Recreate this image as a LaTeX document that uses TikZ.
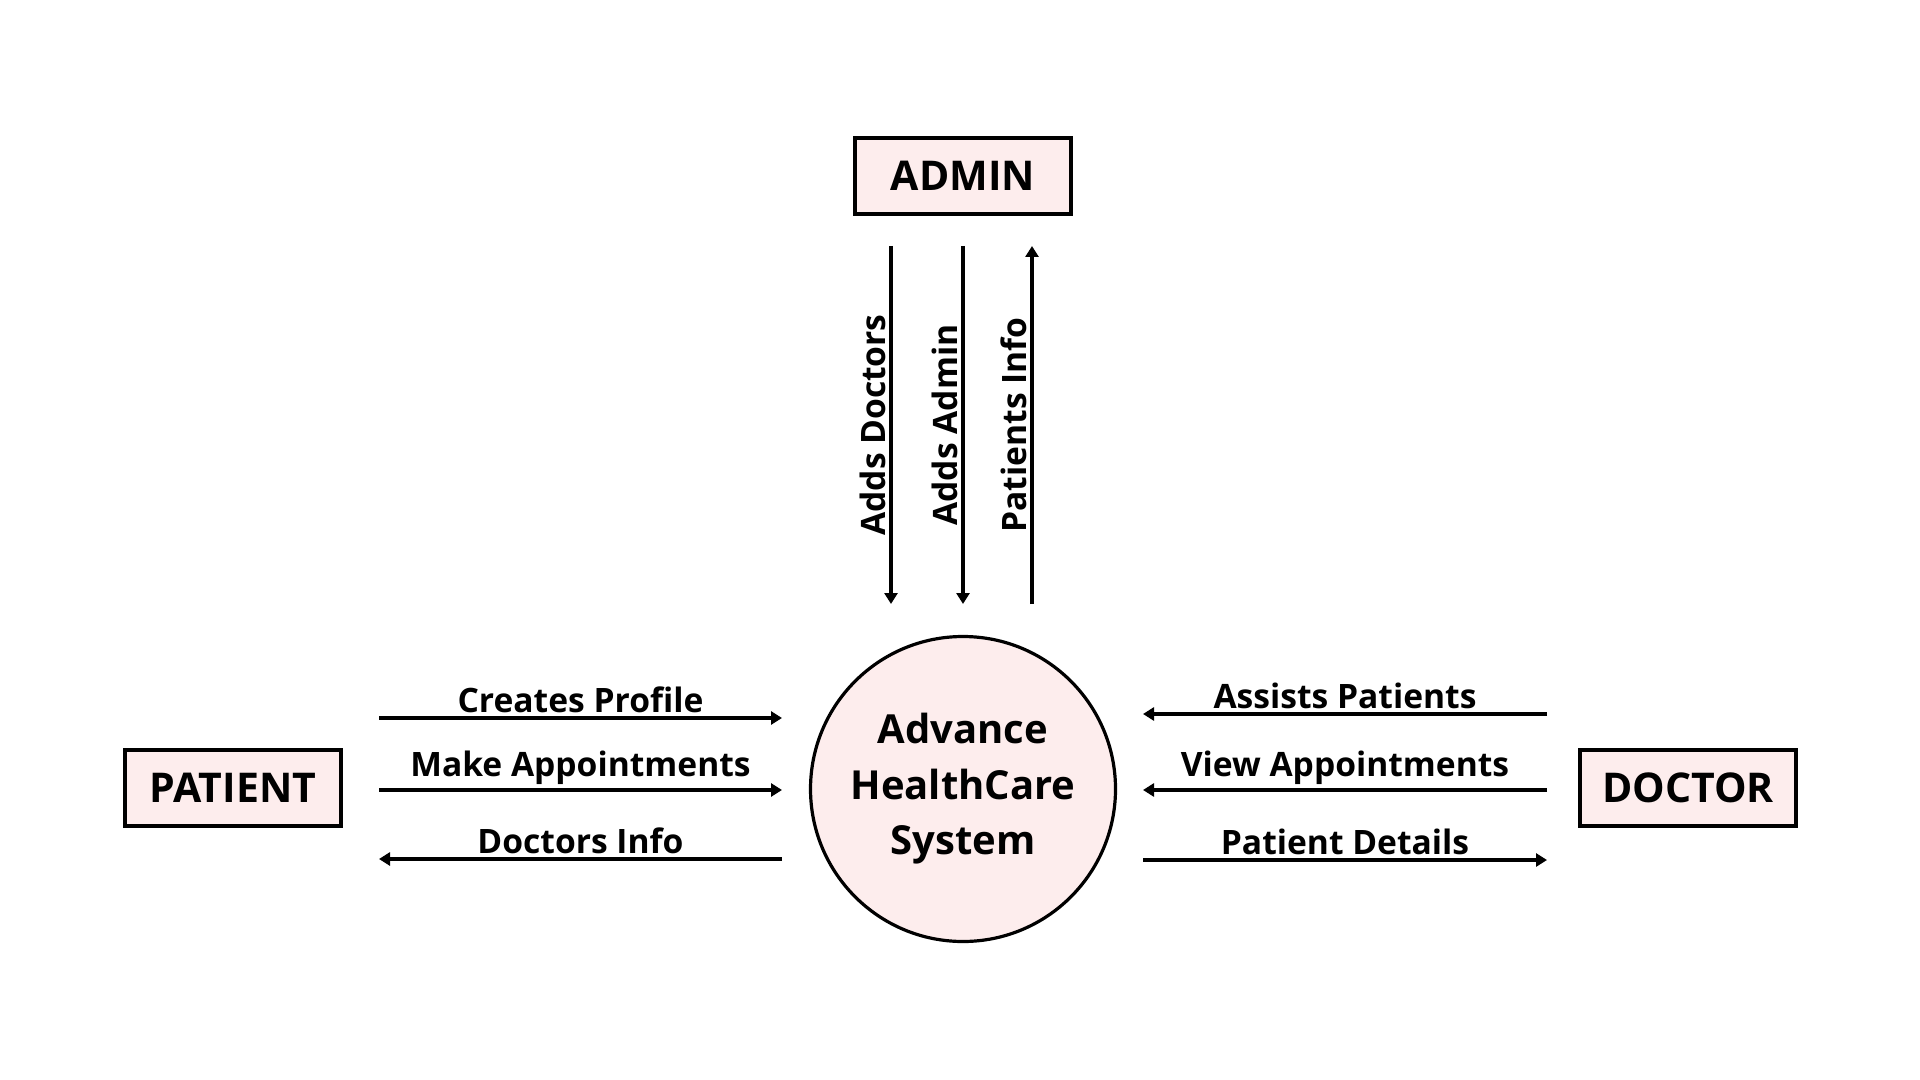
\documentclass[tikz,border=0pt]{standalone}
\usepackage{fontspec}
\setmainfont{Open Sans}
\usetikzlibrary{arrows.meta}
\definecolor{entitypink}{RGB}{253,237,237}

\begin{document}
\begin{tikzpicture}[
  x=0.5pt, y=-0.5pt,
  entity/.style={draw, line width=2pt, fill=entitypink, minimum width=108pt,
    minimum height=38pt, font=\fontsize{20.5}{24}\selectfont\bfseries},
  process/.style={circle, draw, line width=1.6pt, fill=entitypink,
    minimum size=152.5pt, align=center, font=\fontsize{20}{27.7}\selectfont\bfseries},
  flow/.style={line width=2pt, -{Triangle[length=5.5pt,width=6.5pt]}},
  lbl/.style={font=\fontsize{16.8}{20}\selectfont\bfseries, inner sep=1.5pt}
]
  \useasboundingbox (0,0) rectangle (1920,1080);

  % entities and process
  \node[entity] (admin) at (963,176) {ADMIN};
  \node[entity] (patient) at (233,788) {PATIENT};
  \node[entity] (doctor) at (1688,788) {DOCTOR};
  \node[process] (sys) at (963,789) {Advance\\HealthCare\\System};

  % end points of the flows
  \foreach \x in {891,963,1032} {
    \coordinate (top\x) at (\x,246);
    \coordinate (bot\x) at (\x,604);
  }
  \foreach \y in {718,790,859} {
    \coordinate (pl\y) at (379,\y);
    \coordinate (pr\y) at (782,\y);
  }
  \foreach \y in {714,790,860} {
    \coordinate (dl\y) at (1143,\y);
    \coordinate (dr\y) at (1547,\y);
  }

  % admin flows
  \draw[flow] (top891) -- node[lbl, midway, rotate=90, anchor=south] {Adds Doctors} (bot891);
  \draw[flow] (top963) -- node[lbl, midway, rotate=90, anchor=south] {Adds Admin} (bot963);
  \draw[flow] (bot1032) -- node[lbl, midway, rotate=90, anchor=south] {Patients Info} (top1032);

  % patient flows
  \draw[flow] (pl718) -- node[lbl, midway, above] {Creates Profile} (pr718);
  \draw[flow] (pl790) -- node[lbl, midway, above] {Make Appointments} (pr790);
  \draw[flow] (pr859) -- node[lbl, midway, above] {Doctors Info} (pl859);

  % doctor flows
  \draw[flow] (dr714) -- node[lbl, midway, above] {Assists Patients} (dl714);
  \draw[flow] (dr790) -- node[lbl, midway, above] {View Appointments} (dl790);
  \draw[flow] (dl860) -- node[lbl, midway, above] {Patient Details} (dr860);
\end{tikzpicture}
\end{document}
